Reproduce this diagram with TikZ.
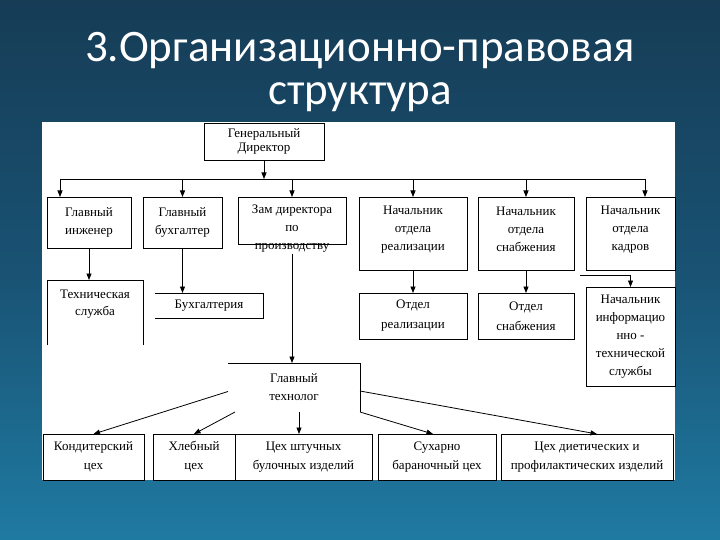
\documentclass[tikz,border=0pt]{standalone}
\usepackage{fontspec}
\setmainfont{Liberation Serif}
\newfontfamily\titlefont{Carlito}
\usetikzlibrary{arrows.meta}
\definecolor{bgtop}{RGB}{22,60,86}
\definecolor{bgmid}{RGB}{25,82,115}
\definecolor{bgbot}{RGB}{31,122,162}
\begin{document}
\begin{tikzpicture}[x=1pt,y=-1pt,line width=0.8pt,>={Triangle[length=6.5pt,width=5pt]}]
  \tikzset{box/.style={draw,rectangle,outer sep=0pt,inner sep=1pt,align=center,font=\fontsize{13}{18}\selectfont}}
  \tikzset{bare/.style={box,draw=none}}
  \tikzset{txt/.style={align=center,inner sep=1pt,font=\fontsize{13}{18}\selectfont}}
  \tikzset{head/.style={anchor=base,text=white,font=\titlefont\fontsize{45}{45}\selectfont}}
  \useasboundingbox (0,0) rectangle (720,540);
  \shade[top color=bgtop,bottom color=bgbot,middle color=bgmid] (0,0) rectangle (720,540);
  \fill[white] (42,122) rectangle (675,480);
  % title
  \node[head] (t1) at (360,62) {3.Организационно-правовая};
  \node[head] (t2) at (360,105) {структура};
  % top row
  \node[box,minimum width=120pt,minimum height=37pt,font=\fontsize{13}{14}\selectfont] (gd) at (264,141.5) {Генеральный\\Директор};
  \node[box,minimum width=84pt,minimum height=51pt] (ge) at (89,222.5) {Главный\\инженер};
  \node[box,minimum width=79pt,minimum height=51pt] (gb) at (182.5,222.5) {Главный\\бухгалтер};
  \node[box,minimum width=108pt,minimum height=47pt,label={[txt,name=zdl,yshift=-8pt]center:{Зам директора\\по\\производству}}] (zd) at (292,220.5) {};
  \node[box,minimum width=108pt,minimum height=73pt,label={[txt,yshift=4pt]center:{Начальник\\отдела\\реализации}}] (nr) at (413,233.5) {};
  \node[box,minimum width=96pt,minimum height=73pt,label={[txt,yshift=4pt]center:{Начальник\\отдела\\снабжения}}] (ns) at (526,233.5) {};
  \node[box,minimum width=89pt,minimum height=73pt,label={[txt,yshift=4pt]center:{Начальник\\отдела\\кадров}}] (nk) at (630.5,233.5) {};
  % second row
  \node[bare,minimum width=96pt,minimum height=65pt,label={[txt,yshift=8pt,font=\fontsize{13}{17}\selectfont]center:{Техническая\\служба}}] (ts) at (95,312.5) {};
  \draw (ts.south west) -- (ts.north west) -- (ts.north east) -- (ts.south east);
  \node[bare,minimum width=108pt,minimum height=25pt] (bh) at (209,305.5) {Бухгалтерия};
  \draw (bh.north west) -- (bh.north east) -- (bh.south east) -- (bh.south west);
  \node[box,minimum width=108pt,minimum height=46pt,font=\fontsize{13}{20}\selectfont] (otr) at (413,316) {Отдел\\реализации};
  \node[box,minimum width=96pt,minimum height=46pt,font=\fontsize{13}{20}\selectfont] (ots) at (526,316) {Отдел\\снабжения};
  \node[box,minimum width=89pt,minimum height=99pt] (ni) at (630.5,336.5) {Начальник\\информацио\\нно -\\технической\\службы};
  \node[bare,minimum width=132pt,minimum height=49pt] (gt) at (294,387.5) {Главный\\технолог};
  \draw (gt.north west) -- (gt.north east) -- (gt.south east);
  % bottom row
  \node[box,minimum width=101pt,minimum height=46pt,font=\fontsize{13}{19}\selectfont] (kc) at (93.5,457) {Кондитерский\\цех};
  \node[bare,minimum width=82pt,minimum height=46pt,font=\fontsize{13}{19}\selectfont] (hc) at (194,457) {Хлебный\\цех};
  \draw (hc.north east) -- (hc.north west) -- (hc.south west) -- (hc.south east);
  \node[box,minimum width=137pt,minimum height=46pt,font=\fontsize{13}{19}\selectfont] (sh) at (303.5,457) {Цех штучных\\булочных изделий};
  \node[box,minimum width=118pt,minimum height=46pt,font=\fontsize{13}{19}\selectfont] (sb) at (437,457) {Сухарно\\бараночный цех};
  \node[box,minimum width=172pt,minimum height=46pt,font=\fontsize{13}{19}\selectfont] (dc) at (587,457) {Цех диетических и\\профилактических изделий};
  % connectors
  \coordinate (bl) at (60,179);
  \coordinate (br) at (645,179);
  \coordinate (kx) at (580,275);
  \draw (bl) -- (br);
  \path[->] (gd.south) edge (gd.south |- bl);
  \path[->] (bl) edge (bl |- ge.north);
  \path[->] (gb.north |- bl) edge (gb.north);
  \path[->] (zd.north |- bl) edge (zd.north);
  \path[->] (nr.north |- bl) edge (nr.north);
  \path[->] (ns.north |- bl) edge (ns.north);
  \path[->] (br) edge (br |- nk.north);
  \path[->] (ge.south) edge (ge.south |- ts.north);
  \path[->] (gb.south) edge (gb.south |- bh.north);
  \path[->] (zdl.south) edge (zdl.south |- gt.north);
  \path[->] (nr.south) edge (otr.north);
  \path[->] (ns.south) edge (ots.north);
  \draw[->] (kx) -| (ni.north);
  \path[->] ([yshift=-4pt]gt.west) edge (kc.north);
  \path[->] ([xshift=7pt]gt.south west) edge (hc.north);
  \path[->] ([xshift=5pt]gt.south) edge ([xshift=5pt]gt.south |- sh.north);
  \path[->] (gt.south east) edge ([xshift=-4pt]sb.north);
  \path[->] ([yshift=-3.5pt]gt.east) edge ([xshift=10pt]dc.north);
\end{tikzpicture}
\end{document}
